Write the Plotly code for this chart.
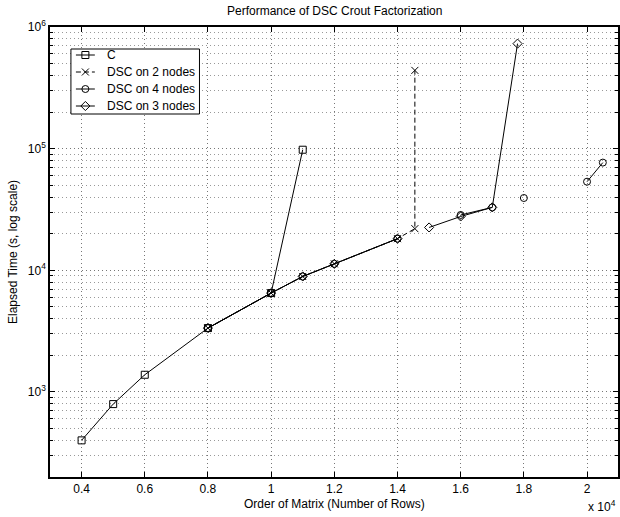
import plotly.graph_objects as go

title_text = "Performance of DSC Crout Factorization"
x_title = "Order of Matrix (Number of Rows)"
y_title = "Elapsed Time (s, log scale)"

series_names = ["C", "DSC on 2 nodes", "DSC on 4 nodes", "DSC on 3 nodes"]

c_x = [4000, 5000, 6000, 8000, 10000, 11000]
c_y = [400, 795, 1385, 3350, 6500, 98000]

dsc2_x = [8000, 10000, 11000, 12000, 14000, 14550, 14550]
dsc2_y = [3350, 6500, 8900, 11300, 18200, 22000, 440000]

dsc4_x = [8000, 10000, 11000, 12000, 14000, None, 16000, 17000, None, 18000, None, 20000, 20500]
dsc4_y = [3350, 6500, 8900, 11300, 18200, None, 28500, 32900, None, 39300, None, 53500, 76800]

dsc3_x = [8000, 10000, 11000, 12000, 14000, None, 15000, 16000, 17000, 17800]
dsc3_y = [3350, 6500, 8900, 11300, 18200, None, 22500, 27700, 32900, 730000]

x_tickvals = [4000, 6000, 8000, 10000, 12000, 14000, 16000, 18000, 20000]
x_ticktext = ["0.4", "0.6", "0.8", "1", "1.2", "1.4", "1.6", "1.8", "2"]
y_tickvals = [1e3, 1e4, 1e5, 1e6]
y_ticktext = ["10<sup>3</sup>", "10<sup>4</sup>", "10<sup>5</sup>", "10<sup>6</sup>"]
y_minorvals = [m * 10 ** e for e in (2, 3, 4, 5) for m in range(2, 10) if 200 <= m * 10 ** e < 1e6]

FONT = "Liberation Sans, Arial, sans-serif"
W, H = 620, 517
ML, MR, MT, MB = 50, 0, 27, 40
PW, PH = W - ML - MR, H - MT - MB

symbols = ["square-open", "x-thin-open", "circle-open", "diamond-open"]
dashes = ["solid", "5px,3px", "solid", "solid"]
xs_all = [c_x, dsc2_x, dsc4_x, dsc3_x]
ys_all = [c_y, dsc2_y, dsc4_y, dsc3_y]

fig = go.Figure()

for name, xs, ys, sym, dash in zip(series_names, xs_all, ys_all, symbols, dashes):
    fig.add_trace(go.Scatter(
        x=xs, y=ys, name=name, mode="lines+markers", showlegend=False,
        connectgaps=False,
        line=dict(color="black", width=1, dash=dash),
        marker=dict(symbol=sym, size=7, color="black",
                    line=dict(color="black", width=1)),
    ))

# manual legend drawn on an overlay pixel-space axis
leg_left, leg_top, leg_right, leg_bottom = 21, 22, 150, 87
row_y = [28, 45, 62, 79]
fig.add_trace(go.Scatter(
    x=[leg_left, leg_right, leg_right, leg_left, leg_left],
    y=[leg_top, leg_top, leg_bottom, leg_bottom, leg_top],
    mode="lines", fill="toself", fillcolor="white",
    line=dict(color="black", width=1), xaxis="x2", yaxis="y2",
    showlegend=False, hoverinfo="skip"))
for name, sym, dash, ry in zip(series_names, symbols, dashes, row_y):
    fig.add_trace(go.Scatter(
        x=[26, 45], y=[ry, ry], mode="lines", xaxis="x2", yaxis="y2",
        showlegend=False, hoverinfo="skip",
        line=dict(color="black", width=1, dash=dash)))
    fig.add_trace(go.Scatter(
        x=[35.5], y=[ry], mode="markers", xaxis="x2", yaxis="y2",
        showlegend=False, hoverinfo="skip",
        marker=dict(symbol=sym, size=7, color="black",
                    line=dict(color="black", width=1))))

annotations = [
    dict(text=title_text, xref="paper", yref="paper", x=0.5, y=1,
         yshift=16, showarrow=False, yanchor="middle", font=dict(size=12)),
    dict(text="x 10<sup>4</sup>", xref="paper", yref="paper", x=1, y=0,
         xanchor="right", yanchor="bottom", yshift=-39, xshift=0,
         showarrow=False, font=dict(size=12)),
    dict(text=x_title, xref="paper", yref="paper", x=0.5, y=0,
         xanchor="center", yanchor="middle", yshift=-27,
         showarrow=False, font=dict(size=12)),
    dict(text=y_title, xref="paper", yref="paper", x=0, y=0.5,
         xanchor="center", yanchor="middle", xshift=-37, textangle=-90,
         showarrow=False, font=dict(size=12)),
]
for name, ry in zip(series_names, row_y):
    annotations.append(dict(text=name, xref="x2", yref="y2", x=55, y=ry,
                            xanchor="left", yanchor="middle", showarrow=False,
                            font=dict(size=12)))

fig.update_layout(
    width=W, height=H,
    margin=dict(l=ML, r=MR, t=MT, b=MB),
    paper_bgcolor="white", plot_bgcolor="white",
    font=dict(family=FONT, size=12, color="black"),
    showlegend=False,
    annotations=annotations,
    xaxis=dict(
        type="linear", range=[3000, 20980],
        tickvals=x_tickvals, ticktext=x_ticktext,
        ticks="inside", ticklen=5, tickcolor="black",
        showline=True, linecolor="black", linewidth=1.5, mirror="ticks",
        showgrid=True, gridcolor="#777", griddash="1px,3px", gridwidth=1,
        zeroline=False,
    ),
    yaxis=dict(
        type="log", range=[2.301, 6],
        tickvals=y_tickvals, ticktext=y_ticktext,
        ticks="inside", ticklen=5, tickcolor="black",
        showline=True, linecolor="black", linewidth=1.5, mirror="ticks",
        showgrid=True, gridcolor="#777", griddash="1px,3px", gridwidth=1,
        minor=dict(tickvals=y_minorvals, showgrid=True, gridcolor="#999",
                   griddash="1px,3px", ticks="inside", ticklen=3, tickcolor="black"),
        zeroline=False,
    ),
    xaxis2=dict(overlaying="x", range=[0, PW], visible=False, fixedrange=True),
    yaxis2=dict(overlaying="y", range=[PH, 0], visible=False, fixedrange=True),
)

fig.write_html("out.html",
               config={"displayModeBar": False},
               post_script="document.body.style.margin='0px';document.body.style.overflow='hidden';")
